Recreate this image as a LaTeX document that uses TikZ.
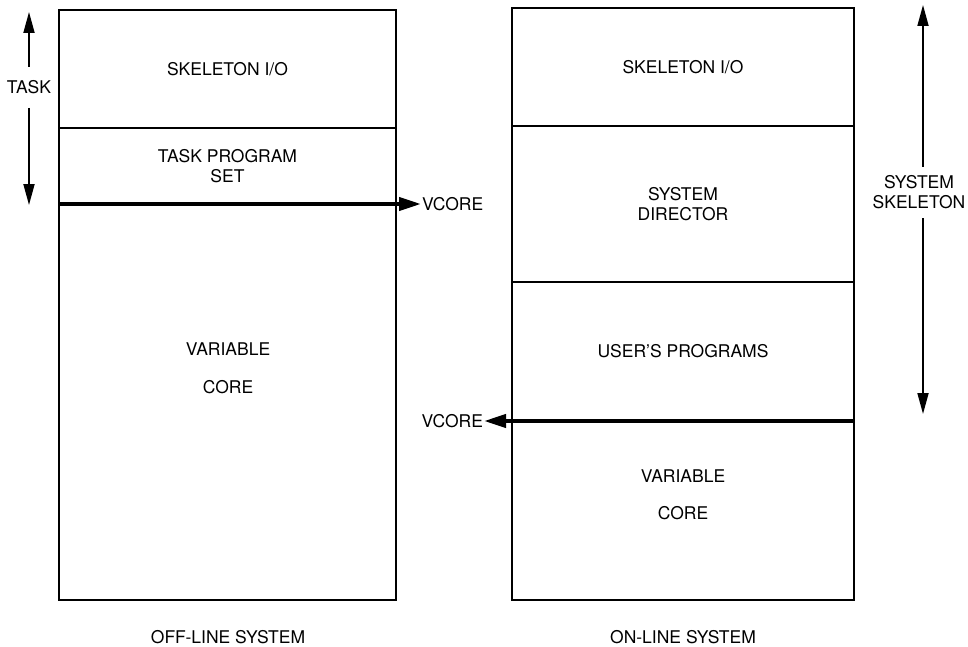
\documentclass[tikz,border=0pt]{standalone}
\usepackage{fontspec}
\setmainfont{TeX Gyre Heros}
\usetikzlibrary{arrows.meta}
\begin{document}
\begin{tikzpicture}[x=1pt,y=-1pt,
  lbl/.style={font=\fontsize{17.5}{20}\selectfont, inner sep=0pt, outer sep=0pt, align=center},
  section/.style={lbl, draw, line width=2pt, anchor=north west},
  vline/.style={line width=4pt, -{Triangle[length=22pt,width=13pt]}},
  dimarrow/.style={line width=1.8pt, -{Triangle[length=21pt,width=11pt]}},
]
\useasboundingbox (0,0) rectangle (968,647);

% ---- off-line system memory map ----
\node[section, minimum width=337pt, minimum height=118pt] (lsk) at (59,10) {SKELETON I/O};
\node[section, minimum width=337pt, minimum height=76pt]  (ltp) at (59,128) {TASK PROGRAM\\SET};
\node[section, minimum width=337pt, minimum height=396pt] (lvc) at (59,204) {};
\node[lbl] (lvar)  at (228,349) {VARIABLE};
\node[lbl] (lcore) at (228,387) {CORE};

% boundary of the variable core
\node[lbl, anchor=west, inner xsep=1pt] (lvcore) at (421,204) {VCORE};
\draw[vline] (lvc.north west) -- (lvcore.west);

% extent of the task
\node[lbl, minimum height=41pt] (task) at (29,87.5) {TASK};
\coordinate (tasktop) at (29,12);
\coordinate (taskbot) at (29,205);
\draw[dimarrow] (task.north) -- (tasktop);
\draw[dimarrow] (task.south) -- (taskbot);

\node[lbl] (offcap) at (228,637) {OFF-LINE SYSTEM};

% ---- on-line system memory map ----
\node[section, minimum width=342pt, minimum height=118pt] (rsk) at (512,8) {SKELETON I/O};
\node[section, minimum width=342pt, minimum height=156pt] (rsd) at (512,126) {SYSTEM\\DIRECTOR};
\node[section, minimum width=342pt, minimum height=139pt] (rup) at (512,282) {USER'S PROGRAMS};
\node[section, minimum width=342pt, minimum height=179pt] (rvc) at (512,421) {};
\node[lbl] (rvar)  at (683,476) {VARIABLE};
\node[lbl] (rcore) at (683,513) {CORE};

% boundary of the variable core
\node[lbl, anchor=east, inner xsep=1pt] (rvcore) at (484,421) {VCORE};
\draw[vline] (rvc.north east) -- (rvcore.east);

% extent of the system skeleton
\node[lbl, inner ysep=9pt] (skel) at (919,192.5) {SYSTEM\\SKELETON};
\coordinate (sktop) at (923,5);
\coordinate (skbot) at (923,414);
\draw[dimarrow] (skel.north -| sktop) -- (sktop);
\draw[dimarrow] (skel.south -| skbot) -- (skbot);

\node[lbl] (oncap) at (683,637) {ON-LINE SYSTEM};
\end{tikzpicture}
\end{document}
